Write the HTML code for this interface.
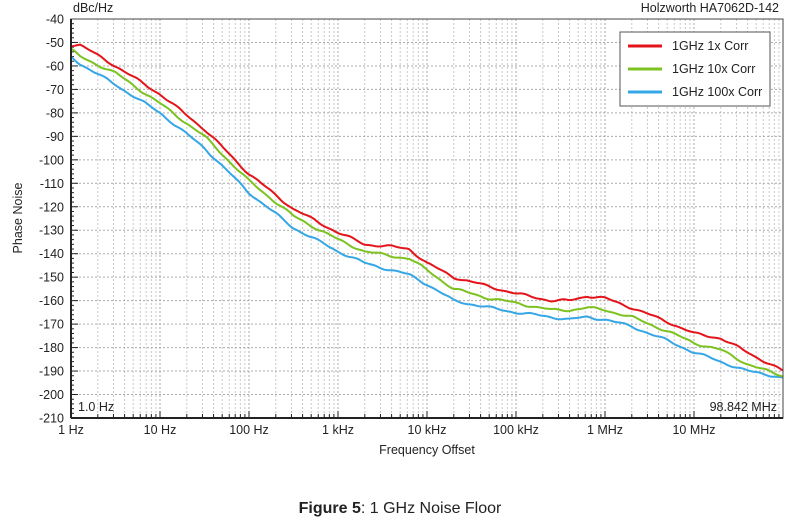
<!DOCTYPE html>
<html><head><meta charset="utf-8"><style>
body{margin:0;background:#fff;width:800px;height:517px;overflow:hidden;font-family:"Liberation Sans",Arial,sans-serif}
svg text{font-family:"Liberation Sans",Arial,sans-serif}
</style></head><body>
<svg id="s" width="800" height="517" xmlns="http://www.w3.org/2000/svg">
<g id="grid"></g>
<g id="curves"></g>
<rect x="71" y="19" width="712" height="399" fill="none" stroke="#444" stroke-width="1"/>
<line x1="71" y1="19" x2="71" y2="418" stroke="#222" stroke-width="2"/>
<line x1="71" y1="418" x2="783" y2="418" stroke="#222" stroke-width="2"/>
<g id="labels" font-size="12.5" fill="#222"></g>
<text x="73" y="12" font-size="12.5" fill="#222">dBc/Hz</text>
<text x="779" y="12" font-size="12.5" fill="#222" text-anchor="end">Holzworth HA7062D-142</text>
<text x="78" y="411" font-size="12.5" fill="#222">1.0 Hz</text>
<text x="777" y="411" font-size="12.5" fill="#222" text-anchor="end">98.842 MHz</text>
<text x="427" y="454" font-size="12.5" fill="#222" text-anchor="middle">Frequency Offset</text>
<text transform="translate(22,218) rotate(-90)" font-size="12.5" fill="#222" text-anchor="middle">Phase Noise</text>
<rect x="620" y="32" width="150" height="74" fill="#fff" stroke="#555"/>
<line x1="628" y1="46" x2="662" y2="46" stroke="#e4141b" stroke-width="3"/>
<line x1="628" y1="69" x2="662" y2="69" stroke="#7cc221" stroke-width="3"/>
<line x1="628" y1="92" x2="662" y2="92" stroke="#35a6e6" stroke-width="3"/>
<text x="672" y="50" font-size="12.5" fill="#222">1GHz 1x Corr</text>
<text x="672" y="73" font-size="12.5" fill="#222">1GHz 10x Corr</text>
<text x="672" y="96" font-size="12.5" fill="#222">1GHz 100x Corr</text>
<text x="400" y="513" font-size="16" fill="#222" text-anchor="middle"><tspan font-weight="bold">Figure 5</tspan>: 1 GHz Noise Floor</text>
</svg>
<script>
var NS="http://www.w3.org/2000/svg";
function X(d){return 71+d*89;}
function Y(v){return 19+(-40-v)*2.347;}
function el(p,t,a){var e=document.createElementNS(NS,t);for(var k in a)e.setAttribute(k,a[k]);p.appendChild(e);return e;}
var g=document.getElementById('grid'),L=document.getElementById('labels');
for(var d=0;d<8;d++){for(var m=1;m<10;m++){var x=X(d+Math.log10(m));if(x>783)break;
 el(g,'line',{x1:x,y1:19,x2:x,y2:418,stroke:m==1?'#aaa':'#c8c8c8','stroke-width':1,'stroke-dasharray':'2,2'});
 el(g,'line',{x1:x,y1:418,x2:x,y2:m==1?411:414,stroke:'#222','stroke-width':1});}}
for(var v=-40;v>=-210;v-=10){var y=Y(v);
 el(g,'line',{x1:71,y1:y,x2:783,y2:y,stroke:'#aaa','stroke-width':1,'stroke-dasharray':'2,2'});
 var t=el(L,'text',{x:64,y:y+4.5,'text-anchor':'end'});t.textContent=v;}
for(var v=-40;v>=-210;v-=2){var y=Y(v);el(g,'line',{x1:71,y1:y,x2:v%10==0?78:74,y2:y,stroke:'#222','stroke-width':1});}
var xl=['1 Hz','10 Hz','100 Hz','1 kHz','10 kHz','100 kHz','1 MHz','10 MHz'];
for(var i=0;i<8;i++){var t=el(L,'text',{x:X(i),y:434,'text-anchor':'middle'});t.textContent=xl[i];}
var red=[[0,-51],[0.1,-51],[0.5,-60],[1,-72],[1.5,-87],[2,-106],[2.5,-121],[3,-131],[3.3,-136],[3.6,-137],[3.8,-138],[4,-144],[4.3,-150],[4.7,-154],[5,-157],[5.4,-160],[5.6,-160],[5.8,-158],[6,-159],[6.3,-163],[6.7,-169],[7,-174],[7.3,-176],[7.6,-182],[7.9,-188],[8,-190]];
var green=[[0,-53],[0.1,-56],[0.5,-63],[1,-76],[1.5,-90],[2,-109],[2.5,-124],[3,-134],[3.3,-139],[3.6,-141],[3.8,-142],[4,-147],[4.3,-155],[4.7,-159],[5,-161],[5.4,-164],[5.6,-164],[5.8,-163],[6,-164],[6.3,-167],[6.7,-173],[7,-178],[7.3,-181],[7.6,-187],[7.9,-191],[8,-192]];
var blue=[[0,-56],[0.1,-59],[0.5,-68],[1,-80],[1.5,-95],[2,-114],[2.5,-129],[3,-139],[3.3,-144],[3.6,-147],[3.8,-149],[4,-153],[4.3,-160],[4.7,-163],[5,-165],[5.4,-167],[5.6,-168],[5.8,-167],[6,-168],[6.3,-171],[6.7,-177],[7,-182],[7.3,-186],[7.6,-190],[7.9,-192],[8,-193]];
function interp(a,d){for(var i=1;i<a.length;i++)if(d<=a[i][0]){var f=(d-a[i-1][0])/(a[i][0]-a[i-1][0]);return a[i-1][1]+f*(a[i][1]-a[i-1][1]);}return a[a.length-1][1];}
var c=document.getElementById('curves');
[[blue,'#35a6e6',3],[green,'#7cc221',7],[red,'#e4141b',11]].forEach(function(s){
 var pts=[];for(var d=0;d<=8.0001;d+=0.02){var v=interp(s[0],d)+0.4*Math.sin(d*13+s[2])+0.2*Math.sin(d*29+s[2]);pts.push(X(d).toFixed(1)+','+Y(v).toFixed(1));}
 el(c,'polyline',{points:pts.join(' '),fill:'none',stroke:s[1],'stroke-width':2,'stroke-linejoin':'round'});});
</script>
</body></html>
